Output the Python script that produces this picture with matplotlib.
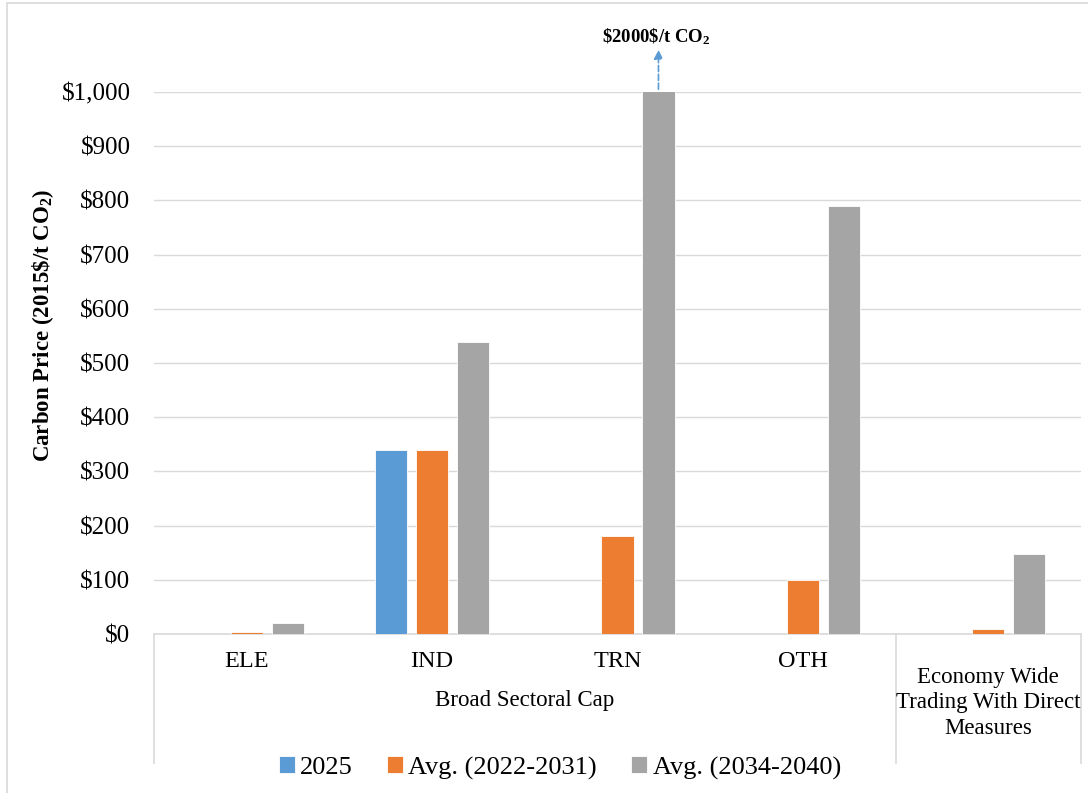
import numpy as np
import matplotlib.pyplot as plt
from matplotlib.patches import Rectangle
from matplotlib.ticker import FuncFormatter

plt.rcParams['font.family'] = ['Liberation Serif', 'DejaVu Serif']
plt.rcParams['mathtext.fontset'] = 'custom'
plt.rcParams['mathtext.rm'] = 'Liberation Serif'
plt.rcParams['mathtext.bf'] = 'Liberation Serif:bold'
plt.rcParams['mathtext.it'] = 'Liberation Serif:italic'

sectors = ['ELE', 'IND', 'TRN', 'OTH']
econ_label = 'Economy Wide\nTrading With Direct\nMeasures'
group_label = 'Broad Sectoral Cap'
series_names = ['2025', 'Avg. (2022-2031)', 'Avg. (2034-2040)']
colors = ['#5B9BD5', '#ED7D31', '#A5A5A5']

s2025 = [np.nan, 340, np.nan, np.nan, np.nan]
avg_2022_2031 = [4, 340, 180, 100, 10]
avg_2034_2040 = [21, 538, 2000, 789, 147]
series = [s2025, avg_2022_2031, avg_2034_2040]

y_max = 1000
grid_col = '#D9D9D9'

fig = plt.figure(figsize=(10.88, 7.93), dpi=100)
ax = fig.add_axes([154 / 1088, 1 - 634 / 793, (1081 - 154) / 1088, (634 - 92) / 793])

x = np.arange(5) + 0.5
step = 0.221
width = 0.173
handles = []
for i, (vals, name, c) in enumerate(zip(series, series_names, colors)):
    b = ax.bar(x + (i - 1) * step, vals, width, color=c, label=name,
               edgecolor='white', linewidth=0.6, zorder=3)
    handles.append(b)

ax.set_xlim(0, 5)
ax.set_ylim(0, y_max)
ax.set_yticks(np.arange(0, 1001, 100))
ax.yaxis.set_major_formatter(FuncFormatter(lambda v, p: r'\$' + format(int(v), ',')))
ax.tick_params(axis='y', length=0, pad=17, labelsize=18)
ax.grid(axis='y', color=grid_col, linewidth=1, zorder=0)
for s in ['top', 'right', 'left']:
    ax.spines[s].set_visible(False)
ax.spines['bottom'].set_color(grid_col)
ax.spines['bottom'].set_linewidth(1.2)

ax.set_xticks(x[:4], sectors)
ax.tick_params(axis='x', length=0, pad=12, labelsize=17.5)

# category separator lines below the axis
trans = ax.get_xaxis_transform()
for xv in [0, 4, 5]:
    ax.plot([xv, xv], [0, -0.238], transform=trans, color=grid_col,
            linewidth=1.2, clip_on=False)
ax.text(2, -0.122, group_label, transform=trans, ha='center', va='center', fontsize=16.5)
ax.text(4.5, -0.127, econ_label, transform=trans, ha='center', va='center',
        fontsize=16.5, linespacing=1.3)

# off-scale marker for TRN
trn_x = x[2] + step
trn_val = avg_2034_2040[2]
ax.annotate('', xy=(trn_x, 1083), xytext=(trn_x, y_max),
            arrowprops=dict(arrowstyle='-|>', color='#5B9BD5', linestyle='--',
                            linewidth=1.2, mutation_scale=13),
            annotation_clip=False)
ax.text(trn_x - 0.01, 1102, r'\$%d\$/t CO$_\mathbf{2}$' % trn_val, ha='center', va='center',
        fontsize=13.5, fontweight='bold', clip_on=False)

fig.text(43 / 1088, 1 - 325 / 793, r'Carbon Price (2015\$/t CO$_\mathbf{2}$)',
         rotation=90, ha='center', va='center', fontsize=16.5, fontweight='bold')

fig.legend(handles=handles, loc='center', bbox_to_anchor=(560 / 1088, 1 - 768 / 793),
           ncol=3, frameon=False, fontsize=19, handlelength=0.6, handleheight=0.6,
           handletextpad=0.2, columnspacing=1.3)

fig.patches.append(Rectangle((7 / 1088, -0.05), 1.1, 1 - 3 / 793 + 0.05,
                             transform=fig.transFigure, fill=False,
                             edgecolor=grid_col, linewidth=1.2))

fig.savefig('out.png', dpi=100)
